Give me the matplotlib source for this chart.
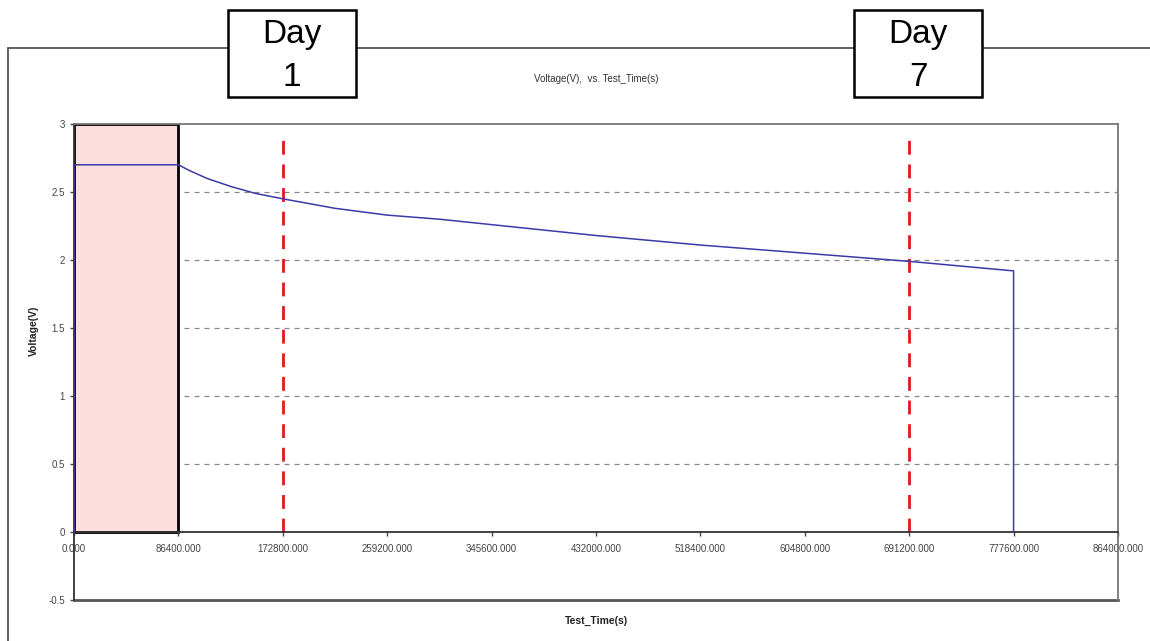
import matplotlib.pyplot as plt
import matplotlib.patches as patches
from matplotlib.ticker import FormatStrFormatter

plt.rcParams['font.family'] = ['Liberation Sans', 'DejaVu Sans']

# test data
test_time = [0, 0, 20000, 60000, 86400, 95000, 110000, 130000, 150000, 172800,
             216000, 259200, 302400, 345600, 432000, 518400, 604800, 691200,
             777600, 777600]
voltage = [0.0, 2.70, 2.70, 2.70, 2.70, 2.66, 2.60, 2.54, 2.49, 2.45,
           2.38, 2.33, 2.30, 2.26, 2.18, 2.11, 2.05, 1.99,
           1.92, 0.0]
day_marks = [172800, 691200]
day_labels = ["Day\n1", "Day\n7"]
x_ticks = [i * 86400 for i in range(11)]
y_ticks = [-0.5, 0, 0.5, 1, 1.5, 2, 2.5, 3]

W, H = 1150, 641
fig = plt.figure(figsize=(W / 100, H / 100), dpi=100)

# outer chart frame
frame = patches.Rectangle((8 / W, -0.1), 1.2, 1 - 48 / H + 0.1,
                          transform=fig.transFigure, fill=False,
                          edgecolor='#555555', lw=1.3)
fig.patches.append(frame)

ax = fig.add_axes([74 / W, 1 - 600 / H, 1044 / W, 476 / H])
ax.set_xlim(0, 864000)
ax.set_ylim(-0.5, 3)

# shaded first day
ax.add_patch(patches.Rectangle((0, 0), 86400, 3, facecolor='#fcdede',
                               edgecolor='black', lw=2, zorder=1))

for yv in [0.5, 1, 1.5, 2, 2.5]:
    ax.axhline(yv, color='#888888', lw=0.9, ls=(0, (4, 4)), zorder=0.5)

for xm in day_marks:
    ax.plot([xm, xm], [0, 2.9], color='#e0191e', lw=2, ls=(0, (5, 3.5)), zorder=2)

ax.plot(test_time, voltage, color='#3a3aa8', lw=1.1, zorder=3)

ax.spines['bottom'].set_position(('data', 0))
ax.spines['bottom'].set_color('#333333')
ax.spines['left'].set_color('#333333')
ax.spines['top'].set_color('#777777')
ax.spines['right'].set_color('#777777')
for s in ax.spines.values():
    s.set_linewidth(1.3)
ax.axhline(-0.5, color='#555555', lw=2, clip_on=False)

ax.set_xticks(x_ticks)
ax.xaxis.set_major_formatter(FormatStrFormatter('%.3f'))
ax.set_yticks(y_ticks)
ax.set_yticklabels(['-0.5', '0', '0.5', '1', '1.5', '2', '2.5', '3'])
ax.tick_params(axis='both', labelsize=7, colors='#444444', length=3, width=1)
ax.tick_params(axis='x', pad=6)

ax.set_title("Voltage(V),  vs. Test_Time(s)", fontsize=7, color='#333333', pad=30)
ax.set_xlabel("Test_Time(s)", fontsize=7.5, color='#222222', fontweight='bold')
ax.set_ylabel("Voltage(V)", fontsize=7.5, color='#222222', fontweight='bold')
ax.xaxis.set_label_coords(0.5, -0.034)
ax.yaxis.set_label_coords(-0.034, 0.565)

# day callout boxes
for xm, lab in zip(day_marks, day_labels):
    xf = fig.transFigure.inverted().transform(ax.transData.transform((xm, 0)))[0]
    cx = xf + 9 / W
    box = patches.Rectangle((cx - 64 / W, 1 - 97 / H), 128 / W, 87 / H,
                            transform=fig.transFigure, facecolor='white',
                            edgecolor='black', lw=1.8)
    fig.patches.append(box)
    top, bottom = lab.split("\n")
    fig.text(cx, 1 - 34 / H, top, ha='center', va='center', fontsize=24)
    fig.text(cx, 1 - 78 / H, bottom, ha='center', va='center', fontsize=24)

fig.savefig('out.png', dpi=100)
